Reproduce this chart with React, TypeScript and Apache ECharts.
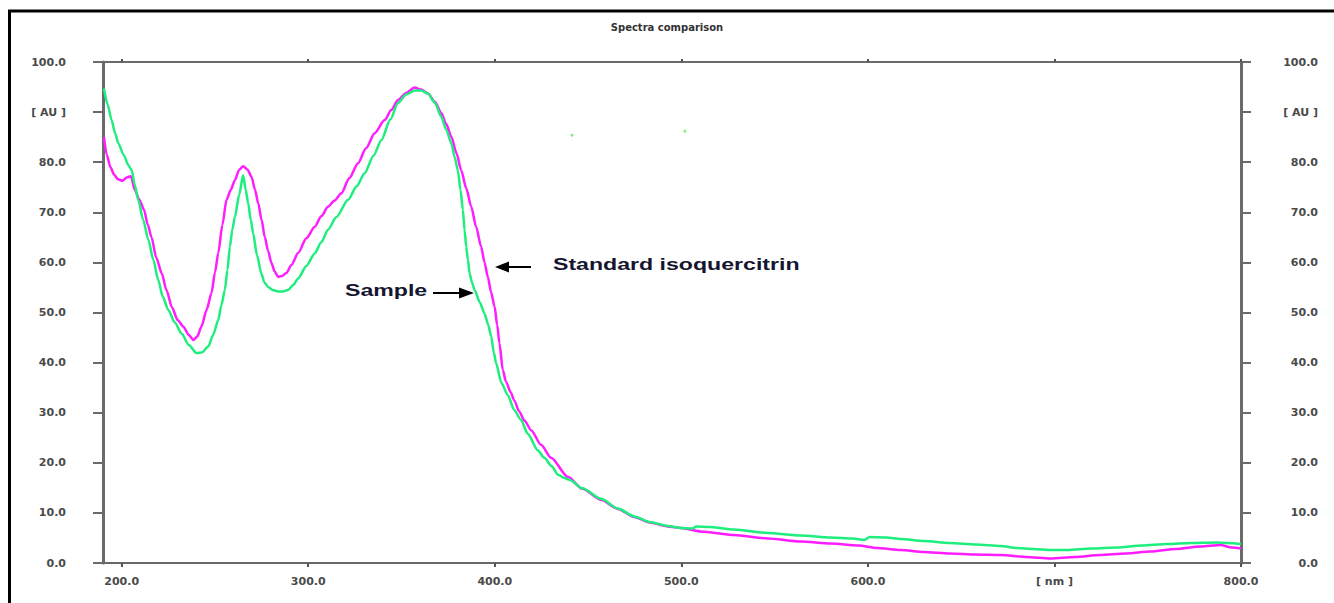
import React, { useEffect, useRef } from "react";
import * as echarts from "echarts";

// Wavelength (nm) / absorbance (AU) pairs
const standardIsoquercitrin: [number, number][] = [
  [190.5, 85.0], [192, 81.5], [194, 79], [196, 77.5], [198, 76.6], [200.5, 76.3],
  [203, 77], [205, 77.2], [207, 74.5], [209.5, 72.5], [212, 70.5], [214, 67.5],
  [216, 65], [218.5, 61], [221.5, 57.8], [224, 54.5], [227, 51], [230, 48.5],
  [233, 47.2], [236, 45.5], [238.5, 44.5], [240.5, 45.2], [242.8, 47.2], [245.5, 50.5],
  [248.2, 53.9], [250, 58], [251.8, 61.9], [254, 67.5], [256.2, 72.5], [258.5, 74.5],
  [260.7, 76.4], [263, 78.5], [265.1, 79.2], [267.5, 78.5], [269.6, 77.1], [271.5, 74.5],
  [273.2, 71.8], [275, 68.5], [276.7, 65.1], [278.5, 62.3], [280.3, 59.9], [282, 58.2],
  [283.9, 57.1], [286, 57.3], [288.3, 57.9], [291, 59.5], [294.6, 61.9], [299, 64.8],
  [303.5, 67.1], [307, 69.2], [310.6, 71.1], [314, 72.3], [317.8, 73.8], [322, 76.8],
  [326.7, 79.8], [331, 82.8], [335.6, 85.8], [341, 88.4], [344.5, 90.4], [348.1, 92.4],
  [352.5, 93.8], [357, 94.9], [360.5, 94.5], [364.2, 93.7], [368, 92], [371.3, 89.8],
  [374, 87.6], [376.7, 85.1], [379.5, 81.8], [382, 78.4], [384.7, 74.8], [387.4, 71.1],
  [390, 67.1], [392.7, 63.1], [394.5, 60], [396.3, 57.1], [398, 54.1], [399.9, 51.2],
  [401.3, 47.5], [402.5, 43.9], [404.3, 38.5], [406, 36.2], [408.5, 34.1], [410.5, 32.4],
  [413, 30.3], [416, 28.4], [419.5, 26.5], [424.8, 23.6], [430.2, 21], [439.1, 17.2],
  [447, 14.8], [457, 12.6], [466, 10.8], [474.8, 9.2], [483, 8.1], [492.7, 7.3],
  [500, 7.0], [510.5, 6.3], [528.2, 5.6], [546.2, 4.9], [564, 4.3], [580, 3.9],
  [595, 3.5], [605, 3.0], [617.6, 2.6], [630, 2.2], [644, 1.9], [658, 1.7],
  [671, 1.6], [685, 1.2], [697.9, 0.9], [711, 1.2], [724.6, 1.6], [738, 1.9],
  [751.4, 2.3], [765, 2.8], [778.2, 3.3], [789, 3.6], [795, 3.1], [800, 2.9],
];

const sample: [number, number][] = [
  [190.5, 94.7], [192.5, 91.5], [194.6, 88.4], [196.5, 85.8], [198.2, 83.8], [201, 81.5],
  [203.6, 79.4], [205.4, 78.4], [207, 75.5], [208.9, 72.5], [211.5, 68.5], [214.3, 64.5],
  [217, 60.5], [219.6, 56.5], [222, 53.2], [225, 50.5], [228.5, 48], [232.1, 45.8],
  [236, 43.5], [240.1, 41.9], [243, 42], [246.4, 43.2], [249, 45.5], [251.8, 48.5],
  [253.5, 51.5], [255.3, 54.5], [256.7, 58.5], [258, 63.1], [259.3, 66.5], [260.7, 69.1],
  [263, 73.5], [265.1, 77.4], [266.5, 74.5], [267.8, 71.8], [269.2, 68.5], [270.5, 65.8],
  [272.5, 61.5], [274.9, 57.8], [276.5, 56], [278.5, 55.1], [281, 54.5], [283.9, 54.2],
  [286.5, 54.2], [289.2, 54.5], [292, 55.5], [294.6, 56.8], [299, 59.3], [303.5, 61.8],
  [307, 64], [310.6, 66.5], [315, 69], [321.4, 72.5], [326, 75.2], [330.2, 77.8],
  [335, 81.3], [339.2, 84.4], [344, 88.5], [348.1, 91.8], [352.5, 93.5], [357, 94.3],
  [360.5, 94.3], [364.2, 93.7], [368, 91.8], [371.3, 89.1], [374, 86.5], [376.7, 83.8],
  [378.5, 81], [380.2, 78.4], [381.6, 74.5], [382.9, 70.5], [383.8, 66.5], [384.7, 63.1],
  [385.6, 60.5], [386.5, 57.8], [387.8, 56], [389.2, 54.5], [392, 52], [394.5, 49.8],
  [396.5, 47.5], [398.1, 45.2], [399.5, 42], [400.7, 39.9], [403.5, 36], [407, 33.5],
  [410.5, 30.5], [414, 28.6], [417.7, 25.8], [423, 22.5], [426.6, 21.0], [430.5, 19.3],
  [434, 17.6], [437, 17.0], [440, 16.6], [447, 14.9], [457, 12.8], [466, 10.9],
  [474.8, 9.3], [483, 8.2], [492.7, 7.4], [500, 7.0], [506, 6.9], [508, 7.3],
  [515, 7.2], [528.2, 6.7], [546.2, 6.0], [564, 5.5], [580, 5.1], [592, 4.9],
  [598, 4.6], [601, 5.2], [610, 5.1], [617.6, 4.8], [630, 4.4], [644, 4.0],
  [658, 3.7], [671, 3.4], [680, 3.0], [688.8, 2.8], [698, 2.6], [706.8, 2.6],
  [720, 2.9], [733.6, 3.1], [747, 3.5], [760.3, 3.8], [773, 4.0], [787, 4.1],
  [800, 3.8],
];

const strayPoints: [number, number][] = [
  [441.4, 85.4],
  [501.9, 86.2],
];

const xTickValues = [200, 300, 400, 500, 600, 700, 800];
const xUnitAt = 700;
const yUnitAt = 90;

const titleText = "Spectra comparison";
const sampleLabel = "Sample";
const standardLabel = "Standard isoquercitrin";

const labelFont = "DejaVu Sans";
const axisColor = "#6a6a6a";

export default function App() {
  const ref = useRef<HTMLDivElement>(null);

  useEffect(() => {
    if (!ref.current) return;
    const chart = echarts.init(ref.current, null, { renderer: "svg" });

    const xFormatter = (v: number) => (v === xUnitAt ? "[ nm ]" : v.toFixed(1));
    const yFormatter = (v: number) => (v === yUnitAt ? "[ AU ]" : v.toFixed(1));

    const labelStyle = {
      color: "#4a4a4a",
      fontFamily: labelFont,
      fontWeight: "bold" as const,
      fontSize: 11,
    };
    const lineStyle = { color: axisColor, width: 2 };

    chart.setOption({
      animation: false,
      backgroundColor: "#fff",
      title: {
        text: titleText,
        left: "center",
        top: 22,
        padding: [0, 0, 0, 22],
        textStyle: {
          fontFamily: labelFont,
          fontWeight: "bold",
          fontSize: 10,
          color: "#333",
        },
      },
      grid: { left: 103, top: 62, width: 1138, height: 501, containLabel: false },
      xAxis: [
        {
          type: "value",
          position: "bottom",
          min: 190,
          max: 800,
          axisLine: { show: true, onZero: false, lineStyle },
          axisTick: {
            show: true,
            customValues: xTickValues,
            length: 4,
            lineStyle: { color: "#555", width: 2 },
          },
          axisLabel: {
            customValues: xTickValues,
            formatter: xFormatter,
            margin: 13,
            ...labelStyle,
          },
          splitLine: { show: false },
        },
        {
          type: "value",
          position: "top",
          min: 190,
          max: 800,
          axisLine: { show: true, onZero: false, lineStyle },
          axisTick: {
            show: true,
            customValues: xTickValues,
            length: 3,
            lineStyle: { color: "#555", width: 2 },
          },
          axisLabel: { show: false },
          splitLine: { show: false },
        },
      ],
      yAxis: [
        {
          type: "value",
          position: "left",
          min: 0,
          max: 100,
          interval: 10,
          axisLine: { show: true, onZero: false, lineStyle: { color: axisColor, width: 3 } },
          axisTick: { show: true, length: 10, lineStyle: { color: axisColor, width: 2 } },
          axisLabel: { formatter: yFormatter, margin: 37, ...labelStyle },
          splitLine: { show: false },
        },
        {
          type: "value",
          position: "right",
          min: 0,
          max: 100,
          interval: 10,
          axisLine: { show: true, onZero: false, lineStyle: { color: axisColor, width: 3 } },
          axisTick: { show: true, length: 10, lineStyle: { color: axisColor, width: 2 } },
          axisLabel: { formatter: yFormatter, margin: 77, align: "right", ...labelStyle },
          splitLine: { show: false },
        },
      ],
      series: [
        {
          name: standardLabel,
          type: "line",
          data: standardIsoquercitrin,
          showSymbol: false,
          symbol: "none",
          smooth: 0.25,
          smoothMonotone: "x",
          lineStyle: { color: "#FF1CFF", width: 2.5 },
          z: 2,
        },
        {
          name: sampleLabel,
          type: "line",
          data: sample,
          showSymbol: false,
          symbol: "none",
          smooth: 0.25,
          smoothMonotone: "x",
          lineStyle: { color: "#1DEE7E", width: 2.5 },
          z: 3,
        },
        {
          name: "stray",
          type: "scatter",
          data: strayPoints,
          symbolSize: 3,
          itemStyle: { color: "#66ee66" },
          z: 3,
        },
      ],
      graphic: [
        {
          type: "rect",
          shape: { x: 9.5, y: 11, width: 1400, height: 700 },
          style: { fill: "none", stroke: "#000", lineWidth: 3 },
          z: 100,
        },
        {
          type: "text",
          x: 345,
          y: 290,
          scaleX: 1.36,
          style: {
            text: sampleLabel,
            font: 'bold 17px "Liberation Sans"',
            fill: "#161630",
            verticalAlign: "middle",
          },
        },
        {
          type: "line",
          shape: { x1: 433, y1: 293, x2: 462, y2: 293 },
          style: { stroke: "#000", lineWidth: 2 },
        },
        {
          type: "polygon",
          shape: { points: [[459, 287.5], [474, 293], [459, 298.5]] },
          style: { fill: "#000" },
        },
        {
          type: "text",
          x: 553,
          y: 264.5,
          scaleX: 1.36,
          style: {
            text: standardLabel,
            font: 'bold 17px "Liberation Sans"',
            fill: "#161630",
            verticalAlign: "middle",
          },
        },
        {
          type: "line",
          shape: { x1: 531, y1: 267, x2: 506, y2: 267 },
          style: { stroke: "#000", lineWidth: 2 },
        },
        {
          type: "polygon",
          shape: { points: [[509, 261.5], [495, 267], [509, 272.5]] },
          style: { fill: "#000" },
        },
      ],
    });

    return () => chart.dispose();
  }, []);

  return (
    <div
      ref={ref}
      style={{ position: "absolute", left: 0, top: 0, width: 1334, height: 603 }}
    />
  );
}
